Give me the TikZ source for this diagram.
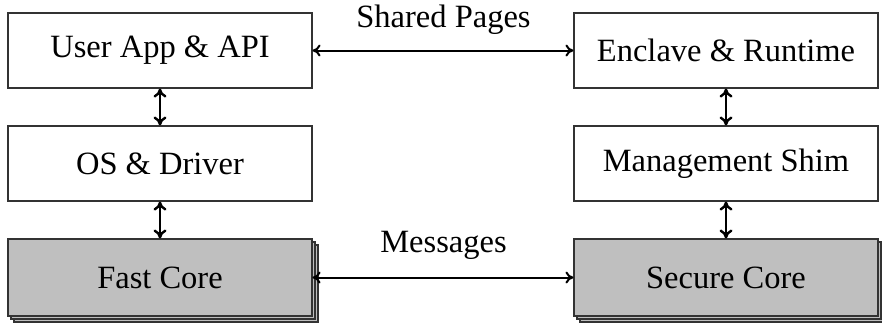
\documentclass[tikz,border=0pt]{standalone}
\usepackage{fontspec}
\setmainfont{Liberation Serif}
\usetikzlibrary{arrows.meta}
\tikzset{
  blk/.style={draw=black!80, line width=1.1pt, fill=white, minimum width=304pt, minimum height=75pt, inner sep=0pt, font=\fontsize{32.5}{38}\selectfont},
  corebox/.style={blk, fill=black!25, minimum height=77pt},
  shadowbox/.style={draw=black!80, line width=1.1pt, fill=black!25, minimum width=304pt, minimum height=77pt, inner sep=0pt},
  vlink/.style={line width=2.4pt, {To[length=9pt,width=13pt]}-{To[length=9pt,width=13pt]}},
  hlink/.style={line width=2pt, {To[length=8pt,width=12pt]}-{To[length=8pt,width=12pt]}},
  lbl/.style={font=\fontsize{32.5}{38}\selectfont, inner sep=0pt}
}
\begin{document}
\begin{tikzpicture}[x=1pt,y=-1pt]
\useasboundingbox (0,0) rectangle (882,322);
% stacked shadows
\node[shadowbox] (fs2) at (166,283.5) {};
\node[shadowbox] (fs1) at (163,280.5) {};
\node[shadowbox] (ss2) at (732,283.5) {};
\node[shadowbox] (ss1) at (729,280.5) {};
% boxes
\node[blk] (app) at (160,50.5) {User App \& API};
\node[blk] (os) at (160,163.5) {OS \& Driver};
\node[corebox] (fast) at (160,277.5) {Fast Core};
\node[blk] (encl) at (726,50.5) {Enclave \& Runtime};
\node[blk] (shim) at (726,163.5) {Management Shim};
\node[corebox] (sec) at (726,277.5) {Secure Core};
% labels
\node[lbl] (lsp) at (443.5,20) {Shared Pages};
\node[lbl] (lmsg) at (443.5,245) {Messages};
% connectors
\draw[hlink] (app.east) -- (encl.west);
\draw[hlink] (fast.east) -- (sec.west);
\draw[vlink] (app.south) -- (os.north);
\draw[vlink] (os.south) -- (fast.north);
\draw[vlink] (encl.south) -- (shim.north);
\draw[vlink] (shim.south) -- (sec.north);
\end{tikzpicture}
\end{document}
